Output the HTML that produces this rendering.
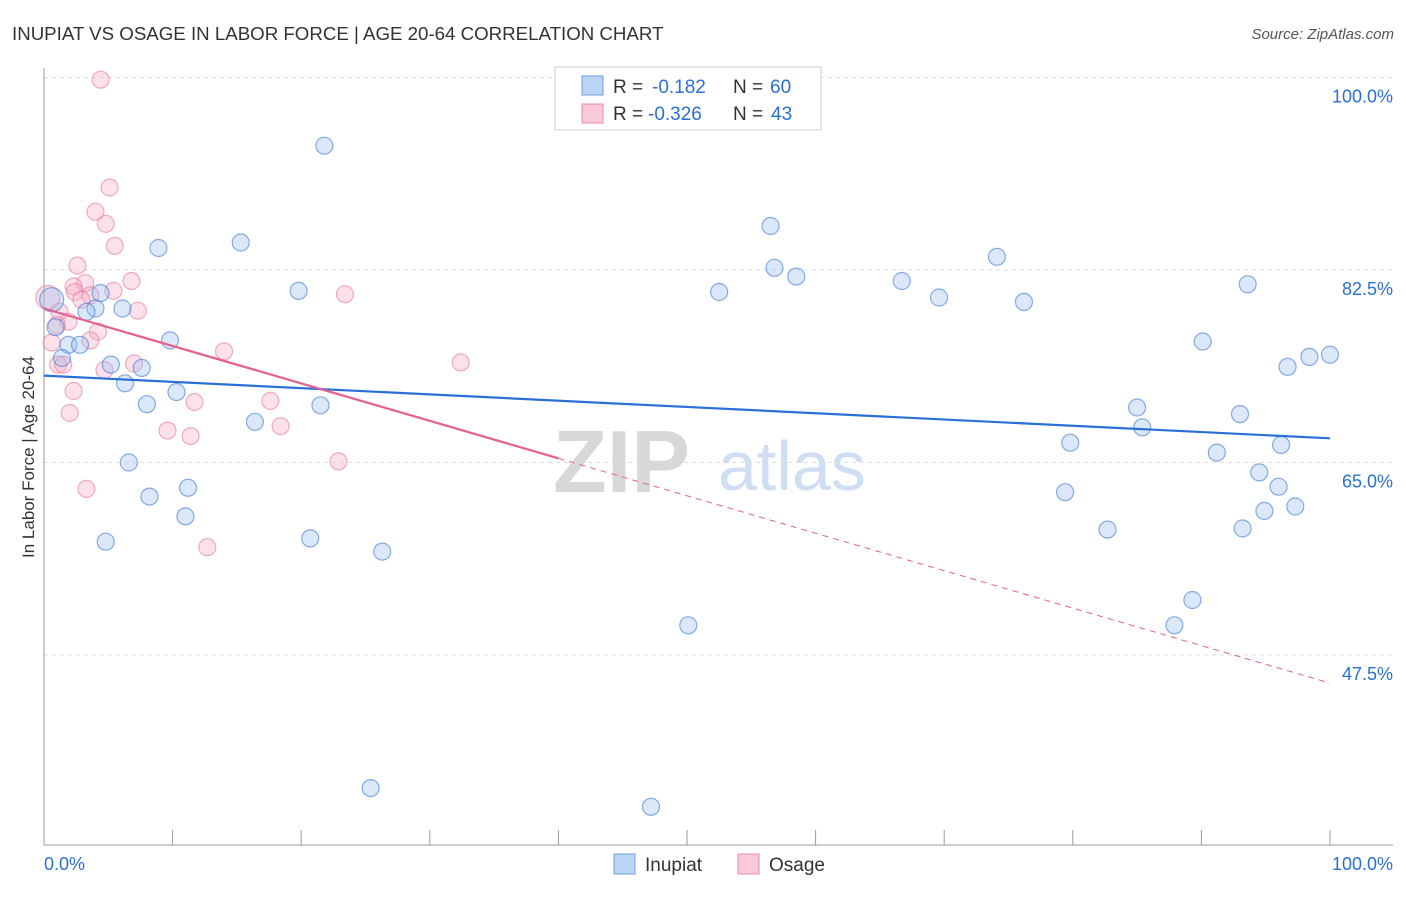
<!DOCTYPE html>
<html><head><meta charset="utf-8"><style>
body{margin:0;background:#fff;font-family:"Liberation Sans",sans-serif;}
svg text{font-family:"Liberation Sans",sans-serif;}
</style></head><body>
<svg id="chart" width="1406" height="892" xmlns="http://www.w3.org/2000/svg">
<text x="12" y="40" font-size="18.7" fill="#333">INUPIAT VS OSAGE IN LABOR FORCE | AGE 20-64 CORRELATION CHART</text>
<text x="1394" y="39" font-size="15" fill="#555" text-anchor="end" font-style="italic">Source: ZipAtlas.com</text>
<g>
<text x="553" y="492" font-size="88" fill="#d8d8d8" font-family="Liberation Serif" font-weight="bold">ZIP</text>
<text x="718" y="490" font-size="70" fill="#d0def3">atlas</text>
</g>
<g id="grid"></g>
<g id="axes"></g>
<g id="marks"></g>
<text transform="translate(34,457) rotate(-90)" font-size="17" fill="#333" text-anchor="middle">In Labor Force | Age 20-64</text>
<g>
<rect x="555" y="67" width="266" height="63" fill="#fff" stroke="#ccc"/>
<rect x="582" y="76" width="21" height="19" fill="#bcd4f6" stroke="#6a9be0"/>
<rect x="582" y="104" width="21" height="19" fill="#fbcad8" stroke="#ea8aa8"/>
<text x="613" y="93" font-size="19" fill="#333">R =</text>
<text x="652" y="93" font-size="19" fill="#2a6fd6">-0.182</text>
<text x="733" y="93" font-size="19" fill="#333">N =</text>
<text x="770" y="93" font-size="19" fill="#2a6fd6">60</text>
<text x="613" y="120" font-size="19" fill="#333">R =</text>
<text x="648" y="120" font-size="19" fill="#2a6fd6">-0.326</text>
<text x="733" y="120" font-size="19" fill="#333">N =</text>
<text x="771" y="120" font-size="19" fill="#2a6fd6">43</text>
</g>
<g>
<rect x="614" y="854" width="21" height="20" fill="#bcd4f6" stroke="#6a9be0"/>
<text x="645" y="871" font-size="19" fill="#333">Inupiat</text>
<rect x="738" y="854" width="21" height="20" fill="#fbcad8" stroke="#ea8aa8"/>
<text x="769" y="871" font-size="19" fill="#333">Osage</text>
</g>
</svg>
<script>
const yTicks=[47.5,65,82.5,100];
const yTickLabels=["47.5%","65.0%","82.5%","100.0%"];
const xTickLabels=["0.0%","100.0%"];
const inupiatX=[21.8,56.5,15.3,8.9,74.1,56.8,58.5,66.7,93.6,19.8,52.5,4.4,69.6,76.2,6.1,4.0,3.3,0.6,0.9,9.8,90.1,1.9,2.8,100,98.4,1.4,5.2,7.6,96.7,6.3,10.3,8.0,21.5,85.0,93.0,16.4,85.4,79.8,96.2,91.2,6.6,94.5,11.2,96.0,79.4,8.2,97.3,11.0,94.9,82.7,93.2,20.7,4.8,26.3,89.3,87.9,50.1,25.4,47.2];
const inupiatY=[93.8,86.5,85.0,84.5,83.7,82.7,81.9,81.5,81.2,80.6,80.5,80.4,80.0,79.6,79.0,79.0,78.7,79.8,77.3,76.1,76.0,75.7,75.7,74.8,74.6,74.5,73.9,73.6,73.7,72.2,71.4,70.3,70.2,70.0,69.4,68.7,68.2,66.8,66.6,65.9,65.0,64.1,62.7,62.8,62.3,61.9,61.0,60.1,60.6,58.9,59.0,58.1,57.8,56.9,52.5,50.2,50.2,35.4,33.7];
const osageX=[4.4,5.1,4.0,4.8,5.5,2.6,6.8,3.2,2.3,2.4,5.4,23.4,3.6,2.9,0.3,7.3,1.2,1.9,1.0,4.2,3.6,0.6,14.0,32.4,7.0,1.1,1.5,4.7,2.3,11.7,17.6,2.0,9.6,11.4,18.4,22.9,3.3,12.7];
const osageY=[99.8,90.0,87.8,86.7,84.7,82.9,81.5,81.3,81.0,80.5,80.6,80.3,80.2,79.8,80.0,78.8,78.7,77.8,77.5,76.9,76.1,75.9,75.1,74.1,74.0,73.9,73.9,73.4,71.5,70.5,70.6,69.5,67.9,67.4,68.3,65.1,62.6,57.3];
const inupiatTrend=[72.9,67.2];
const osageTrend=[79.0,44.95];
const osageSolidEnd=40;
const NS="http://www.w3.org/2000/svg";
const X0=44,X1=1330,Y100=77.5,PX=11;
function sx(v){return X0+(X1-X0)*v/100;}
function sy(v){return Y100+(100-v)*PX;}
function mk(tag,attrs,parent){const e=document.createElementNS(NS,tag);for(const k in attrs)e.setAttribute(k,attrs[k]);document.getElementById(parent).appendChild(e);return e;}
yTicks.forEach((t,i)=>{
 const l=mk('line',{x1:X0,x2:1393,y1:sy(t),y2:sy(t),stroke:'#ddd','stroke-dasharray':'4,4'},'grid');
 
 
 const tx=mk('text',{x:1393,y:sy(t)+25,'font-size':18,fill:'#2a6fd6','text-anchor':'end'},'grid');
 tx.textContent=yTickLabels[i];
 
 
});
let a=mk('line',{x1:X0,x2:X0,y1:68,y2:845,stroke:'#999'},'axes');


a=mk('line',{x1:X0,x2:1393,y1:845,y2:845,stroke:'#999'},'axes');


for(let i=0;i<=10;i++){const t=mk('line',{x1:sx(i*10),x2:sx(i*10),y1:830,y2:845,stroke:'#999'},'axes');
 
 }
let xl=mk('text',{x:44,y:870,'font-size':18,fill:'#2a6fd6'},'axes');xl.textContent=xTickLabels[0];


xl=mk('text',{x:1393,y:870,'font-size':18,fill:'#2a6fd6','text-anchor':'end'},'axes');xl.textContent=xTickLabels[1];


osageX.forEach((x,i)=>{const c=mk('circle',{cx:sx(x),cy:sy(osageY[i]),r:(i==14?12:8.5),fill:'rgba(246,170,195,0.35)',stroke:'rgba(232,120,158,0.6)','stroke-width':1.2},'marks');
 
 });
inupiatX.forEach((x,i)=>{const c=mk('circle',{cx:sx(x),cy:sy(inupiatY[i]),r:(i==17?12:8.5),fill:'rgba(150,190,240,0.35)',stroke:'rgba(60,120,210,0.6)','stroke-width':1.2},'marks');
 
 });
let ln=mk('line',{x1:sx(0),y1:sy(inupiatTrend[0]),x2:sx(100),y2:sy(inupiatTrend[1]),stroke:'#2a6fd6','stroke-width':2.2},'marks');


const oy=x=>osageTrend[0]+(osageTrend[1]-osageTrend[0])*x/100;
ln=mk('line',{x1:sx(0),y1:sy(oy(0)),x2:sx(osageSolidEnd),y2:sy(oy(osageSolidEnd)),stroke:'#e5608e','stroke-width':2.2},'marks');


ln=mk('line',{x1:sx(osageSolidEnd),y1:sy(oy(osageSolidEnd)),x2:sx(100),y2:sy(oy(100)),stroke:'#e5608e','stroke-width':1,'stroke-dasharray':'6,5'},'marks');


</script>
</body></html>
